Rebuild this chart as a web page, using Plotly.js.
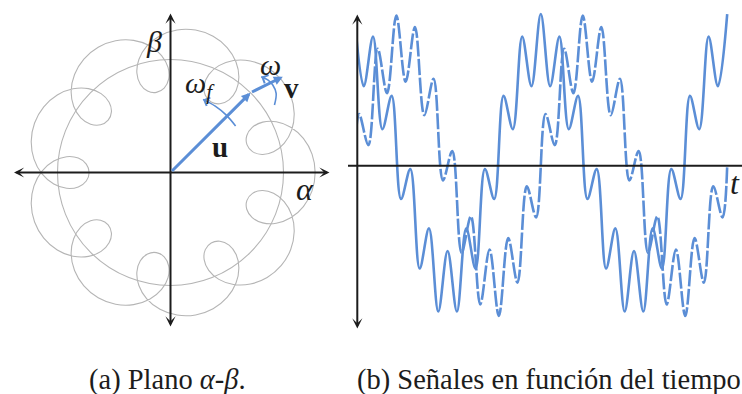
<!DOCTYPE html>
<html>
<head>
<meta charset="utf-8">
<script src="https://cdn.plot.ly/plotly-3.0.1.min.js"></script>
<style>
  html, body { margin: 0; padding: 0; background: #fff; }
  #fig { width: 742px; height: 394px; }
</style>
</head>
<body>
<div id="fig"></div>
<script>
// ---------- (a) alpha-beta plane: trajectory of u + v (radius, angle in degrees) ----------
const trajR = [
  1.280, 1.263, 1.214, 1.137, 1.038, 0.930, 0.826, 0.749, 0.720, 0.749, 0.826, 0.930, 1.038, 1.137, 1.214, 1.263,
  1.280, 1.263, 1.214, 1.137, 1.038, 0.930, 0.826, 0.749, 0.720, 0.749, 0.826, 0.930, 1.038, 1.137, 1.214, 1.263,
  1.280, 1.263, 1.214, 1.137, 1.038, 0.930, 0.826, 0.749, 0.720, 0.749, 0.826, 0.930, 1.038, 1.137, 1.214, 1.263,
  1.280, 1.263, 1.214, 1.137, 1.038, 0.930, 0.826, 0.749, 0.720, 0.749, 0.826, 0.930, 1.038, 1.137, 1.214, 1.263,
  1.280, 1.263, 1.214, 1.137, 1.038, 0.930, 0.826, 0.749, 0.720, 0.749, 0.826, 0.930, 1.038, 1.137, 1.214, 1.263,
  1.280, 1.263, 1.214, 1.137, 1.038, 0.930, 0.826, 0.749, 0.720, 0.749, 0.826, 0.930, 1.038, 1.137, 1.214, 1.263,
  1.280, 1.263, 1.214, 1.137, 1.038, 0.930, 0.826, 0.749, 0.720, 0.749, 0.826, 0.930, 1.038, 1.137, 1.214, 1.263,
  1.280, 1.263, 1.214, 1.137, 1.038, 0.930, 0.826, 0.749, 0.720, 0.749, 0.826, 0.930, 1.038, 1.137, 1.214, 1.263,
  1.280, 1.263, 1.214, 1.137, 1.038, 0.930, 0.826, 0.749, 0.720, 0.749, 0.826, 0.930, 1.038, 1.137, 1.214, 1.263,
  1.280
];
const trajTheta = [
  0, 7.37, 14.38, 20.65, 25.64, 28.66, 28.87, 25.73, 20, 14.28, 11.13, 11.34, 14.36, 19.35, 25.62, 32.63,
  40, 47.37, 54.38, 60.65, 65.64, 68.66, 68.87, 65.73, 60, 54.28, 51.13, 51.34, 54.36, 59.35, 65.62, 72.63,
  80, 87.37, 94.38, 100.65, 105.64, 108.66, 108.87, 105.73, 100, 94.28, 91.13, 91.34, 94.36, 99.35, 105.62, 112.63,
  120, 127.37, 134.38, 140.65, 145.64, 148.66, 148.87, 145.73, 140, 134.28, 131.13, 131.34, 134.36, 139.35, 145.62, 152.63,
  160, 167.37, 174.38, 180.65, 185.64, 188.66, 188.87, 185.73, 180, 174.28, 171.13, 171.34, 174.36, 179.35, 185.62, 192.63,
  200, 207.37, 214.38, 220.65, 225.64, 228.66, 228.87, 225.73, 220, 214.28, 211.13, 211.34, 214.36, 219.35, 225.62, 232.63,
  240, 247.37, 254.38, 260.65, 265.64, 268.66, 268.87, 265.73, 260, 254.28, 251.13, 251.34, 254.36, 259.35, 265.62, 272.63,
  280, 287.37, 294.38, 300.65, 305.64, 308.66, 308.87, 305.73, 300, 294.28, 291.13, 291.34, 294.36, 299.35, 305.62, 312.63,
  320, 327.37, 334.38, 340.65, 345.64, 348.66, 348.87, 345.73, 340, 334.28, 331.13, 331.34, 334.36, 339.35, 345.62, 352.63,
  360
];
const uRadius = 1.0;                 // |u|, drawn as the reference circle
const uTip = [0.708, 0.706];         // vector u (alpha, beta)
const vTip = [0.994, 0.848];         // tip of u + v
const omegaFArcX = [0.576, 0.494, 0.396, 0.288];   // rotation of u
const omegaFArcY = [0.412, 0.508, 0.587, 0.647];
const omegaArcX = [0.920, 0.935, 0.905, 0.861, 0.803]; // rotation of v
const omegaArcY = [0.597, 0.701, 0.774, 0.819, 0.848];

// ---------- (b) signals versus time ----------
const tAlpha = [0, 1, 2, 3, 4, 5, 6, 7, 8, 9, 10, 11, 12, 13, 14, 15, 16, 17, 18, 19, 20,
  21, 22, 23, 24, 25, 26, 27, 28, 29, 30, 31, 32, 33, 34, 35, 36, 37, 38, 39, 40];
const alphaSig = [1.28, 0.671, 1.089, 0.308, 0.589, -0.28, -0.029, -0.868, -0.529, -1.231, -0.72,
  -1.231, -0.529, -0.868, -0.029, -0.28, 0.589, 0.308, 1.089, 0.671, 1.28,
  0.671, 1.089, 0.308, 0.589, -0.28, -0.029, -0.868, -0.529, -1.231, -0.72,
  -1.231, -0.529, -0.868, -0.029, -0.28, 0.589, 0.308, 1.089, 0.671, 1.28];
const tBeta = [0, 0.5, 1.5, 2.5, 3.5, 4.5, 5.5, 6.5, 7.5, 8.5, 9.5, 10.5, 11.5, 12.5, 13.5, 14.5,
  15.5, 16.5, 17.5, 18.5, 19.5, 20.5, 21.5, 22.5, 23.5, 24.5, 25.5, 26.5, 27.5, 28.5, 29.5,
  30.5, 31.5, 32.5, 33.5, 34.5, 35.5, 36.5, 37.5, 38.5, 39.5, 40];
const betaSig = [0, 0.436, 0.174, 0.987, 0.611, 1.268, 0.708, 1.171, 0.427, 0.734, -0.124,
  0.123, -0.734, -0.427, -1.171, -0.708, -1.268, -0.611, -0.987, -0.174, -0.436,
  0.436, 0.174, 0.987, 0.611, 1.268, 0.708, 1.171, 0.427, 0.734, -0.124,
  0.123, -0.734, -0.427, -1.171, -0.708, -1.268, -0.611, -0.987, -0.174, -0.436, 0];

// ---------- styling / geometry ----------
const W = 742, H = 394;
const BLUE = '#5b8ed6', GRAY = '#b5b5b5', INK = '#1c1c1c';
const SERIF = 'Liberation Serif, DejaVu Serif, serif';
const px = v => v / W;            // horizontal pixel -> paper
const py = v => 1 - v / H;        // vertical pixel -> paper

// left panel: centre (170.5, 172.5) px, 113 px per unit
const LC = [170.5, 172.5], LS = 165, LU = 113, LR = LS / LU;
const leftDomX = [px(LC[0] - LS), px(LC[0] + LS)];
const leftDomY = [py(LC[1] + LS), py(LC[1] - LS)];
// right panel: vertical axis at x = 357.3 px, zero line at y = 165.7 px
const RX0 = 357.3, RY0 = 165.7, RTU = 9.32, RVU = 118.5, T0 = 0.311;

const traces = [
  { type: 'scatterpolar', subplot: 'polar', r: trajR, theta: trajTheta, mode: 'lines',
    line: { color: GRAY, width: 1.1, shape: 'spline', smoothing: 1 }, hoverinfo: 'skip' },
  { type: 'scatter', xaxis: 'x', yaxis: 'y', x: omegaFArcX, y: omegaFArcY, mode: 'lines',
    line: { color: BLUE, width: 1.6, shape: 'spline' }, hoverinfo: 'skip' },
  { type: 'scatter', xaxis: 'x', yaxis: 'y', x: omegaArcX, y: omegaArcY, mode: 'lines',
    line: { color: BLUE, width: 1.6, shape: 'spline' }, hoverinfo: 'skip' },
  { type: 'scatter', xaxis: 'x2', yaxis: 'y2', x: tBeta, y: betaSig, mode: 'lines',
    line: { color: BLUE, width: 2.6, shape: 'spline', smoothing: 1, dash: '16px,2.5px' }, hoverinfo: 'skip' },
  { type: 'scatter', xaxis: 'x2', yaxis: 'y2', x: tAlpha, y: alphaSig, mode: 'lines',
    line: { color: BLUE, width: 2.6, shape: 'spline', smoothing: 1 }, hoverinfo: 'skip' }
];

const hidden = { visible: false, fixedrange: true };

function arrow(x, y, axv, ayv, opts) {
  return Object.assign({ x: x, y: y, ax: axv, ay: ayv, text: '', showarrow: true }, opts);
}
function label(x, y, text, size, extra) {
  return Object.assign({ x: x, y: y, xref: 'x', yref: 'y', text: text, showarrow: false,
    font: { family: SERIF, size: size, color: INK }, xanchor: 'center', yanchor: 'middle' }, extra || {});
}

const axisArrow = { arrowcolor: INK, arrowwidth: 2, arrowhead: 3, arrowsize: 0.85,
  startarrowhead: 3, startarrowsize: 0.85, arrowside: 'end+start' };

const annotations = [
  // alpha and beta axes
  arrow((329.5 - LC[0]) / LU, 0, (12.5 - LC[0]) / LU, 0,
    Object.assign({ xref: 'x', yref: 'y', axref: 'x', ayref: 'y' }, axisArrow)),
  arrow(0, (LC[1] - 13.5) / LU, 0, (LC[1] - 328) / LU,
    Object.assign({ xref: 'x', yref: 'y', axref: 'x', ayref: 'y' }, axisArrow)),
  // vectors u and v
  arrow(uTip[0], uTip[1], 0, 0, { xref: 'x', yref: 'y', axref: 'x', ayref: 'y',
    arrowcolor: BLUE, arrowwidth: 3, arrowhead: 2, arrowsize: 0.6 }),
  arrow(vTip[0], vTip[1], uTip[0], uTip[1], { xref: 'x', yref: 'y', axref: 'x', ayref: 'y',
    arrowcolor: BLUE, arrowwidth: 3, arrowhead: 2, arrowsize: 0.6 }),
  // heads of the rotation arcs
  arrow(omegaFArcX[3], omegaFArcY[3], 0.334, 0.627, { xref: 'x', yref: 'y', axref: 'x', ayref: 'y',
    arrowcolor: BLUE, arrowwidth: 1.6, arrowhead: 4, arrowsize: 1.1 }),
  arrow(omegaArcX[4], omegaArcY[4], 0.850, 0.826, { xref: 'x', yref: 'y', axref: 'x', ayref: 'y',
    arrowcolor: BLUE, arrowwidth: 1.6, arrowhead: 4, arrowsize: 1.1 }),
  // labels of panel (a)
  label(-0.150, 1.160, '<i>β</i>', 30),
  label(1.190, -0.150, '<i>α</i>', 32),
  label(0.885, 0.955, '<i>ω</i>', 30),
  label(0.262, 0.770, '<i>ω<sub>f</sub></i>', 30),
  label(0.440, 0.225, '<b>u</b>', 29),
  label(1.075, 0.750, '<b>v</b>', 29),
  // time axis of panel (b)
  arrow(px(RX0), py(14.5), 0, 330 - 14.5, Object.assign({ xref: 'paper', yref: 'paper' }, axisArrow)),
  { x: px(734.5), y: py(183), xref: 'paper', yref: 'paper', text: '<i>t</i>', showarrow: false,
    font: { family: SERIF, size: 32, color: INK }, xanchor: 'center', yanchor: 'middle' },
  // captions
  { x: px(87), y: py(380), xref: 'paper', yref: 'paper', xanchor: 'left', yanchor: 'middle',
    text: '(a) Plano <i>α</i>-<i>β</i>.', showarrow: false, font: { family: SERIF, size: 28.5, color: INK } },
  { x: px(355), y: py(380), xref: 'paper', yref: 'paper', xanchor: 'left', yanchor: 'middle',
    text: '(b) Señales en función del tiempo', showarrow: false, font: { family: SERIF, size: 28.5, color: INK } }
];

const layout = {
  width: W, height: H, margin: { l: 0, r: 0, t: 0, b: 0 },
  paper_bgcolor: '#ffffff', plot_bgcolor: 'rgba(0,0,0,0)', showlegend: false,
  xaxis: Object.assign({ domain: leftDomX, range: [-LR, LR], anchor: 'y' }, hidden),
  yaxis: Object.assign({ domain: leftDomY, range: [-LR, LR], anchor: 'x' }, hidden),
  polar: {
    domain: { x: leftDomX, y: leftDomY }, bgcolor: 'rgba(0,0,0,0)',
    radialaxis: { range: [0, LR], visible: false, showgrid: false, showline: false, showticklabels: false, ticks: '' },
    angularaxis: { visible: false, showgrid: false, showline: false, showticklabels: false, ticks: '',
      rotation: 0, direction: 'counterclockwise' }
  },
  xaxis2: Object.assign({ domain: [px(RX0), 1], range: [T0, T0 + (W - RX0) / RTU], anchor: 'y2' }, hidden),
  yaxis2: Object.assign({ domain: [0, 1], range: [-(H - RY0) / RVU, RY0 / RVU], anchor: 'x2' }, hidden),
  shapes: [
    { type: 'circle', xref: 'x', yref: 'y', x0: -uRadius, x1: uRadius, y0: -uRadius, y1: uRadius,
      line: { color: GRAY, width: 1.1 }, layer: 'below' },
    { type: 'line', xref: 'paper', yref: 'paper', x0: px(348), x1: 1, y0: py(RY0), y1: py(RY0),
      line: { color: INK, width: 2 } }
  ],
  annotations: annotations
};

Plotly.newPlot('fig', traces, layout, { staticPlot: true, displayModeBar: false });
</script>
</body>
</html>
